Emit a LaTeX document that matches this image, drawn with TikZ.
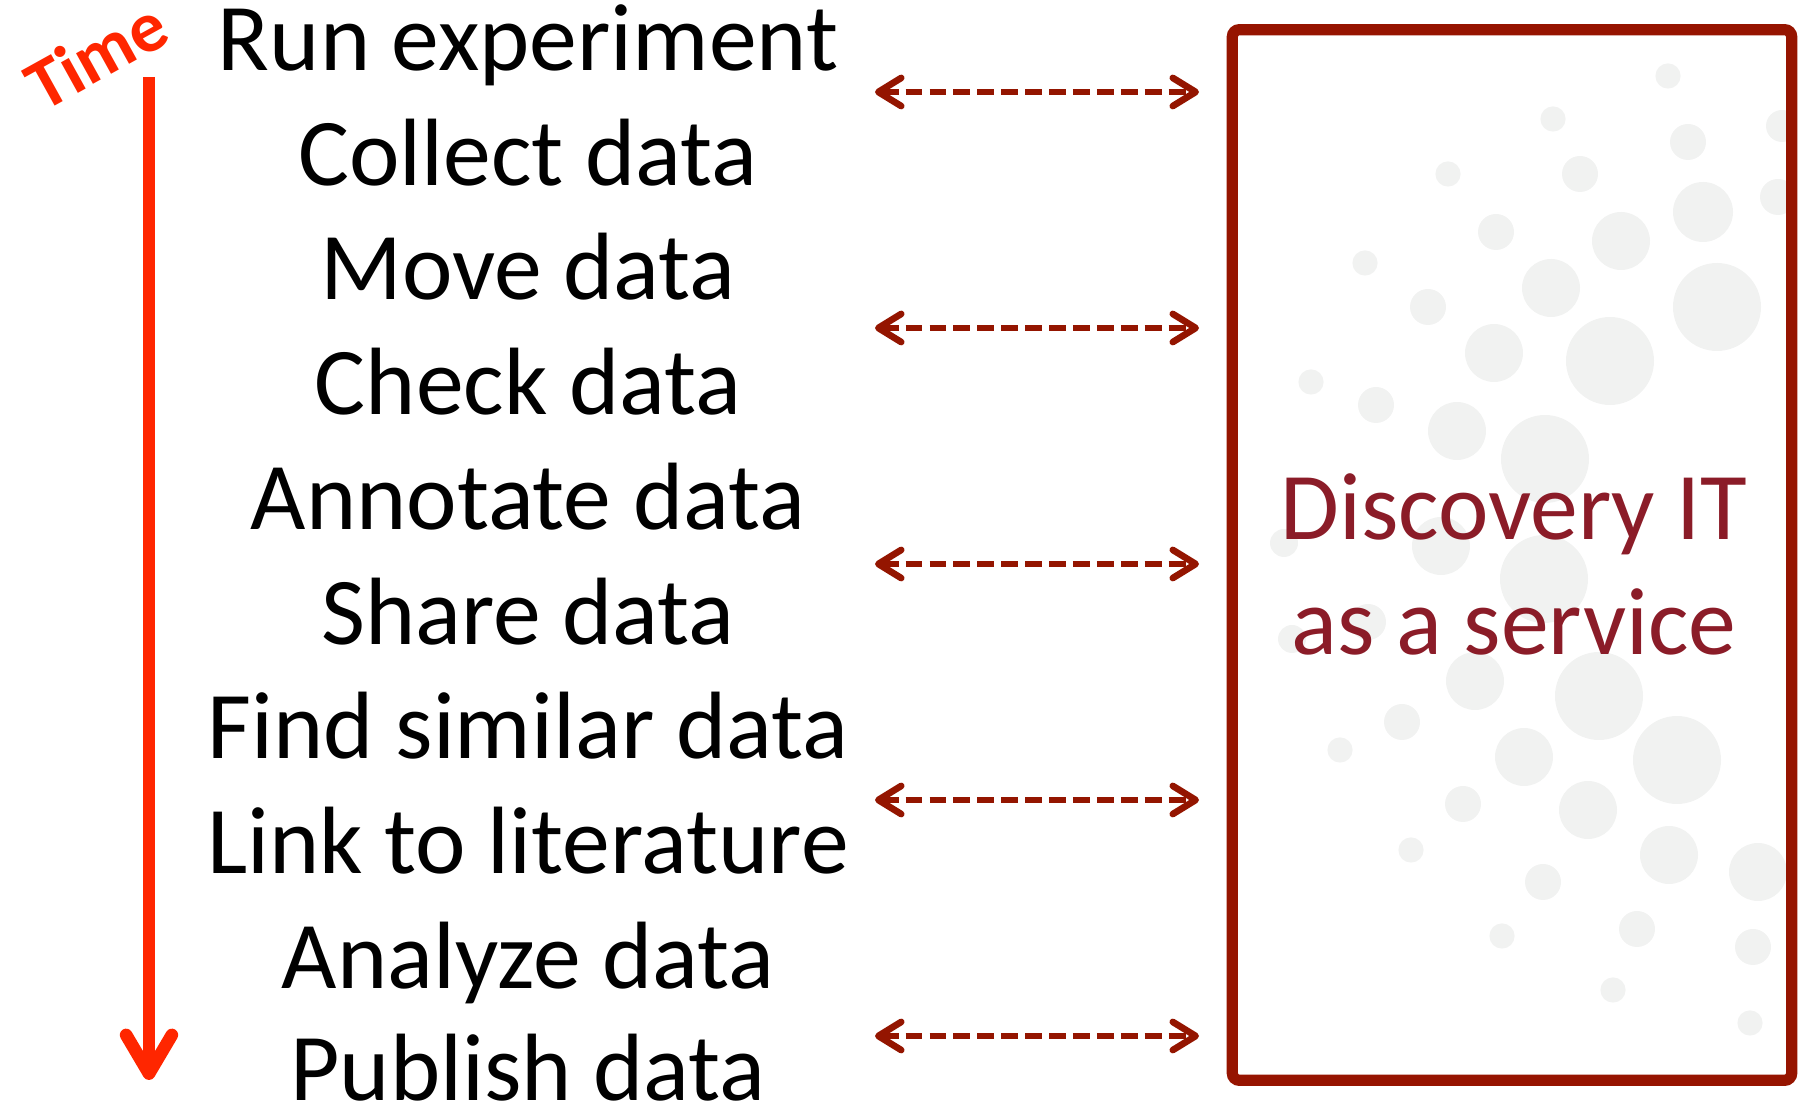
\documentclass[tikz,border=0pt]{standalone}
\usepackage{fontspec}
\setmainfont{Carlito}
\usepackage{xcolor}
\usetikzlibrary{arrows.meta, positioning}
\definecolor{timered}{RGB}{255,38,0}
\definecolor{linkred}{RGB}{148,21,0}
\definecolor{boxred}{RGB}{150,20,0}
\definecolor{svcred}{RGB}{139,28,40}
\definecolor{dotgray}{RGB}{241,242,241}

\begin{document}
\begin{tikzpicture}[x=0.01cm, y=-0.01cm,
  stage/.style={font=\fontsize{27.2pt}{32.7pt}\selectfont, anchor=base, inner sep=0pt},
  link/.style={draw=linkred, line width=1.9pt, dash pattern=on 4.8pt off 2pt,
    {Straight Barb[length=6.5pt, width=8pt, round]}-{Straight Barb[length=6.5pt, width=8pt, round]}},
  svcbox/.style={draw=boxred, line width=3.2pt, rounded corners=2pt, inner sep=0pt},
  svctext/.style={font=\fontsize{27.2pt}{32.7pt}\selectfont, text=svcred, align=center, inner sep=0pt}]
\useasboundingbox (0,0) rectangle (1799,1107);

% time axis
\node[font=\fontsize{20.5pt}{24pt}\selectfont\bfseries, text=timered, rotate=29, inner sep=0pt] (time) at (96,55) {Time};
\coordinate (t0) at (149,77);
\coordinate (t1) at (149,1080);
\draw[timered, line width=3.6pt, -{Straight Barb[length=11pt, width=13pt, round]}] (t0) -- (t1);

% stages
\node[stage] (run) at (528,71) {Run experiment};
\node[stage] (collect) at (528,186) {Collect data};
\node[stage] (move) at (528,300) {Move data};
\node[stage] (check) at (528,415) {Check data};
\node[stage] (annotate) at (528,530) {Annotate data};
\node[stage] (share) at (528,645) {Share data};
\node[stage] (find) at (528,759) {Find similar data};
\node[stage] (lit) at (528,874) {Link to literature};
\node[stage] (analyze) at (528,989) {Analyze data};
\node[stage] (publish) at (528,1101) {Publish data};

% service box with bubbles
\begin{scope}
\clip (1238,36) rectangle (1786,1075);
\foreach \cx/\cy/\r in {1668/76/12.6, 1553/119/12.6, 1688/142/18, 1580/174/18, 1448/174/12.6,
  1703/212/30, 1778/197/18, 1782/126/16, 1496/232/18, 1621/241/29, 1365/263/12.6, 1551/288/29,
  1717/307/44, 1428/307/18, 1494/353/29, 1610/361/44, 1311/382/12.6, 1376/405/18, 1457/431/29,
  1545/459/44, 1284/543/14, 1441/546/29, 1544/579/44, 1368/622/18, 1292/639/14, 1475/681/29,
  1599/696/44, 1402/722/18, 1340/750/12.6, 1524/757/29, 1677/760/44, 1463/804/18, 1588/810/29,
  1411/850/12.6, 1669/855/29, 1758/872/29, 1543/882/18, 1637/929/18, 1502/936/12.6,
  1753/947/18, 1613/990/12.6, 1750/1023/12.6}
  \fill[dotgray] (\cx,\cy) circle[radius=\r*0.01cm];
\end{scope}
\node[svcbox, minimum width=5.59cm, minimum height=10.5cm] (svc) at (1512,555) {};
\node[svctext] (svctxt) at (1514,564) {Discovery IT\\as a service};

% links
\coordinate (l1) at (875,92);   \coordinate (r1) at (1199,92);
\coordinate (l2) at (875,328);  \coordinate (r2) at (1199,328);
\coordinate (l3) at (875,564);  \coordinate (r3) at (1199,564);
\coordinate (l4) at (875,800);  \coordinate (r4) at (1199,800);
\coordinate (l5) at (875,1036); \coordinate (r5) at (1199,1036);
\draw[link] (l1) -- (r1);
\draw[link] (l2) -- (r2);
\draw[link] (l3) -- (r3);
\draw[link] (l4) -- (r4);
\draw[link] (l5) -- (r5);
\end{tikzpicture}
\end{document}
